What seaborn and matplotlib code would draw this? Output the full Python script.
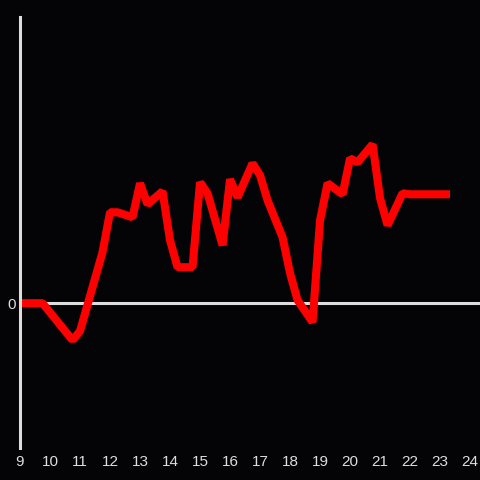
import matplotlib
matplotlib.use('Agg')

import matplotlib.pyplot as plt
import seaborn as sns
import pandas as pd

# hours of day and value
hours = [9.0, 9.75, 10.75, 11.0, 11.75, 12.0, 12.25, 12.75, 13.0, 13.25, 13.75,
         14.0, 14.25, 14.75, 15.0, 15.25, 15.75, 16.0, 16.25, 16.75, 17.0, 17.25,
         17.75, 18.0, 18.25, 18.75, 19.0, 19.25, 19.75, 20.0, 20.25, 20.75, 21.0,
         21.25, 21.75, 22.0, 23.33]
values = [0.0, 0.0, -3.7, -2.8, 5.1, 9.1, 9.1, 8.6, 12.0, 9.9, 11.2,
          6.3, 3.6, 3.6, 12.1, 11.0, 5.8, 12.4, 10.6, 14.0, 12.8, 10.3,
          6.6, 3.0, 0.3, -1.9, 8.3, 12.0, 10.9, 14.5, 14.1, 15.9, 10.5,
          7.8, 11.0, 10.9, 10.9]
xticks = list(range(9, 25))

df = pd.DataFrame({"hour": hours, "value": values})

bg = "#040407"
axis_col = "#dddddd"

sns.set_style("dark")
plt.rcParams['font.family'] = ['Liberation Sans', 'DejaVu Sans']

fig = plt.figure(figsize=(4.8, 4.8), dpi=100, facecolor=bg)
ax = fig.add_axes([20 / 480, 32 / 480, 460 / 480, 431 / 480])
ax.set_facecolor(bg)

sns.lineplot(data=df, x="hour", y="value", ax=ax, color="#ff0000",
             linewidth=5.8, solid_joinstyle="bevel", solid_capstyle="butt")
ax.axhline(0, color=axis_col, linewidth=2.2, zorder=1)

ax.set_xlim(9, 24.33)
ax.set_ylim(-14.5, 28.65)
ax.set_xticks(xticks)
ax.set_yticks([0])
ax.set_xlabel("")
ax.set_ylabel("")
ax.grid(False)

for s in ["top", "right", "bottom"]:
    ax.spines[s].set_visible(False)
ax.spines["left"].set_color(axis_col)
ax.spines["left"].set_linewidth(2.2)

ax.tick_params(axis="both", length=0, colors=axis_col, labelsize=11)
ax.tick_params(axis="x", pad=5)
ax.tick_params(axis="y", pad=3)

plt.savefig("out.png", dpi=100, facecolor=bg)
plt.close()
